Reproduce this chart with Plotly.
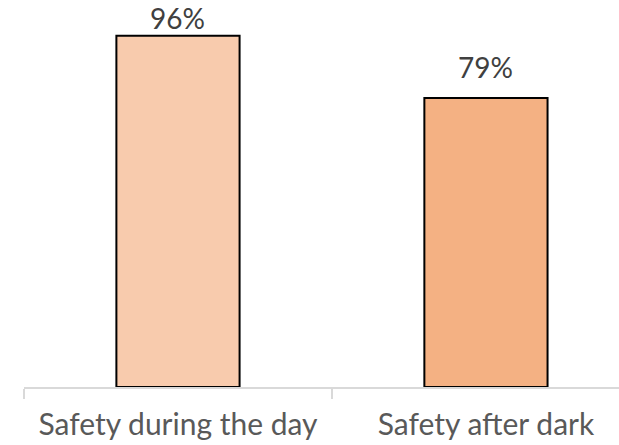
import plotly.graph_objects as go

categories = ["Safety during the day", "Safety after dark"]
values = [96, 79]
labels = ["96%", "79%"]
colors = ["#F8CBAD", "#F4B183"]

FONT = "Lato"
TEXT_COLOR = "#595959"

HEIGHT = 445
MARGIN_B = 58
Y_MAX = 105.8
plot_h = HEIGHT - MARGIN_B
px_per_unit = plot_h / Y_MAX

fig = go.Figure()
fig.add_trace(go.Bar(
    x=categories, y=values,
    marker=dict(color=colors, line=dict(color="#000000", width=2)),
    width=0.4,
    hoverinfo="skip",
))

for c, v, t in zip(categories, values, labels):
    space_above = (Y_MAX - v) * px_per_unit
    shift = min(31, space_above - 18)  # keep label inside the chart, like Excel
    fig.add_annotation(x=c, y=v, text=t, showarrow=False,
                       yanchor="middle", yshift=shift, borderpad=0,
                       font=dict(family=FONT, size=28, color="#404040"))

fig.update_layout(
    width=619, height=HEIGHT,
    margin=dict(l=24, r=0, t=0, b=MARGIN_B),
    paper_bgcolor="white", plot_bgcolor="white",
    showlegend=False,
    xaxis=dict(
        range=[-0.5, 1.432],
        showline=True, linecolor="#D9D9D9", linewidth=1.5,
        ticks="outside", tickson="boundaries", ticklen=10, tickcolor="#D9D9D9", tickwidth=1.5,
        ticklabelstandoff=10,
        tickfont=dict(family=FONT, size=30, color=TEXT_COLOR),
        showgrid=False, zeroline=False, fixedrange=True,
    ),
    yaxis=dict(
        range=[0, Y_MAX], visible=False, showgrid=False, zeroline=False,
    ),
)

fig.write_html("out.html")
